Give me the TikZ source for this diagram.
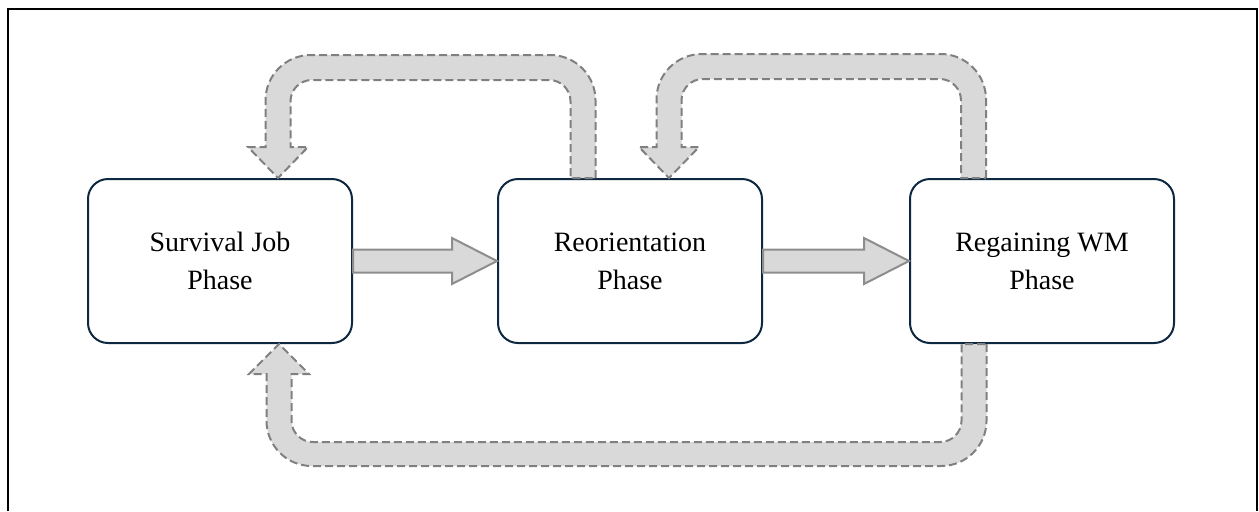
\documentclass[tikz,border=0pt]{standalone}
\usepackage{fontspec}
\setmainfont{Liberation Serif}
\usetikzlibrary{calc}

\definecolor{boxnavy}{HTML}{0E2841}
\definecolor{arrowfill}{HTML}{D9D9D9}
\definecolor{arrowline}{HTML}{808080}

\tikzset{every picture/.style={line width=0.75pt}}
\tikzset{
  phase/.style={draw=boxnavy, line width=1.5pt, rounded corners=15pt,
    minimum width=198pt, minimum height=123pt, inner sep=0pt,
    align=center, font=\fontsize{21}{28.5}\selectfont},
  fwdarrow/.style={fill=arrowfill, draw=arrowline!90!white, line width=1.5pt},
  backarrow/.style={fill=arrowfill, draw=arrowline, line width=1.5pt,
    dash pattern=on 6pt off 3pt},
}

\begin{document}
\begin{tikzpicture}[x=0.75pt,y=0.75pt,yscale=-1,xscale=1]
\useasboundingbox (0,0) rectangle (1259,511);

% frame
\draw [line width=2.2pt] (8,511) -- (8,9) -- (1257,9) -- (1257,511) ;

% phases
\node [phase] (surv) at (220,261) {Survival Job\\Phase};
\node [phase] (reor) at (630,261) {Reorientation\\Phase};
\node [phase] (regain) at (1042,261) {Regaining WM\\Phase};

% forward arrows
\draw [fwdarrow] ($(surv.east)+(0,-11.5)$) -- ($(reor.west)+(-45,-11.5)$) -- ($(reor.west)+(-45,-23)$) -- (reor.west) -- ($(reor.west)+(-45,23)$) -- ($(reor.west)+(-45,11.5)$) -- ($(surv.east)+(0,11.5)$) -- cycle ;
\draw [fwdarrow] ($(reor.east)+(0,-11.5)$) -- ($(regain.west)+(-45,-11.5)$) -- ($(regain.west)+(-45,-23)$) -- (regain.west) -- ($(regain.west)+(-45,23)$) -- ($(regain.west)+(-45,11.5)$) -- ($(reor.east)+(0,11.5)$) -- cycle ;

% feedback arrows
\coordinate (s1) at ($(reor.north)+(-47,0)$);
\coordinate (t1) at ($(surv.north)+(58,0)$);
\coordinate (s2) at ($(regain.north)+(-68.5,0)$);
\coordinate (t2) at ($(reor.north)+(39,0)$);
\coordinate (s3) at ($(regain.south)+(-68,0)$);
\coordinate (t3) at ($(surv.south)+(59,0)$);

\draw [backarrow] ($(s1)+(12.5,0)$) [rounded corners=34pt] -- ($(s1)+(12.5,-123)$) -- ($(t1)+(-12.5,-123)$) [sharp corners] -- ($(t1)+(-12.5,-31)$) -- ($(t1)+(-30,-31)$) -- (t1) -- ($(t1)+(30,-31)$) -- ($(t1)+(12.5,-31)$) [rounded corners=16pt] -- ($(t1)+(12.5,-98)$) -- ($(s1)+(-12.5,-98)$) [sharp corners] -- ($(s1)+(-12.5,0)$) -- cycle ;
\draw [backarrow] ($(s2)+(12.5,0)$) [rounded corners=34pt] -- ($(s2)+(12.5,-124)$) -- ($(t2)+(-12.5,-124)$) [sharp corners] -- ($(t2)+(-12.5,-31)$) -- ($(t2)+(-30,-31)$) -- (t2) -- ($(t2)+(30,-31)$) -- ($(t2)+(12.5,-31)$) [rounded corners=16pt] -- ($(t2)+(12.5,-99)$) -- ($(s2)+(-12.5,-99)$) [sharp corners] -- ($(s2)+(-12.5,0)$) -- cycle ;
\draw [backarrow] ($(s3)+(12.5,0)$) [rounded corners=34pt] -- ($(s3)+(12.5,122)$) -- ($(t3)+(-12.5,122)$) [sharp corners] -- ($(t3)+(-12.5,30)$) -- ($(t3)+(-30,30)$) -- (t3) -- ($(t3)+(30,30)$) -- ($(t3)+(12.5,30)$) [rounded corners=16pt] -- ($(t3)+(12.5,98)$) -- ($(s3)+(-12.5,98)$) [sharp corners] -- ($(s3)+(-12.5,0)$) -- cycle ;

\end{tikzpicture}
\end{document}
